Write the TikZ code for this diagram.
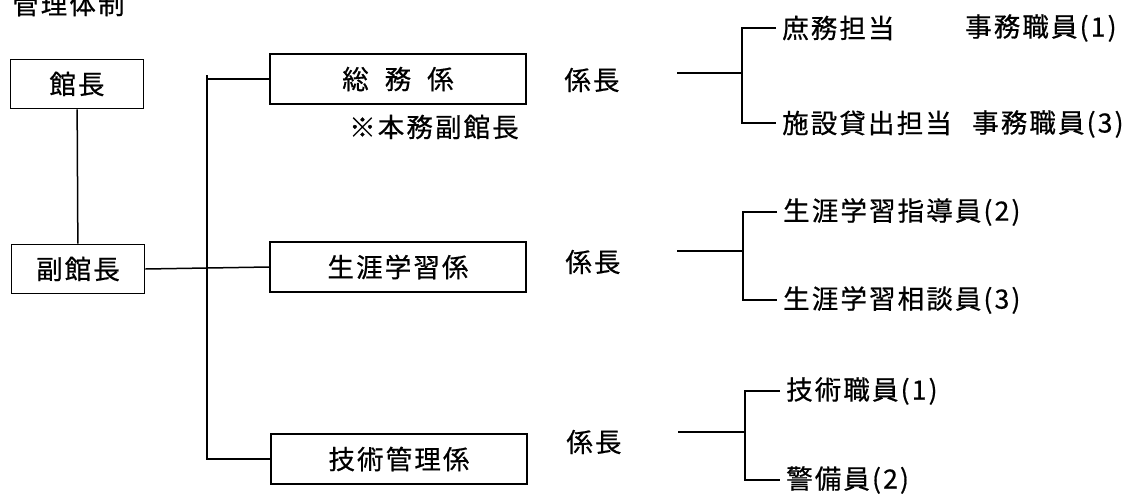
\documentclass[tikz,border=0pt]{standalone}
\usepackage{fontspec}
\newfontfamily\jp{Noto Sans CJK JP}[LetterSpace=8,FakeBold=0.6]
\begin{document}
\begin{tikzpicture}[x=1pt,y=-1pt,
  every node/.style={font=\jp\fontsize{26.5}{26.5}\selectfont},
  lbox/.style={draw,line width=1.8pt,minimum width=133pt,minimum height=49pt,inner sep=0pt},
  dbox/.style={draw,line width=1.8pt,minimum width=256pt,minimum height=50pt,inner sep=0pt},
  txt/.style={inner sep=0pt},
  leaf/.style={anchor=west,inner xsep=6pt,inner ysep=0pt},
  conn/.style={line width=1.5pt}]
\useasboundingbox (0,0) rectangle (1127,493);
% title (cut off at the top edge, as in the reference)
\node[txt,anchor=west] (title) at (12,4) {管理体制};
% left column
\node[lbox] (kancho) at (77,84) {館長};
\node[lbox] (fuku) at (78,269) {副館長};
% departments
\node[dbox] (somu) at (398,79) {総\hspace{16pt}務\hspace{16pt}係};
\node[dbox] (shogai) at (398,267) {生涯学習係};
\node[dbox] (gijutsu) at (399,459) {技術管理係};
\node[txt] (note) at (434,127) {※本務副館長};
% chiefs
\node[txt] (k1) at (592,80) {係長};
\node[txt] (k2) at (593,262) {係長};
\node[txt] (k3) at (594,442) {係長};
% junctions
\coordinate (bus) at (207,75);
\coordinate (s1) at (677,73);  \coordinate (j1) at (742,73);
\coordinate (s2) at (677,251); \coordinate (j2) at (743,251);
\coordinate (s3) at (678,432); \coordinate (j3) at (745,432);
% leaves
\node[leaf] (a1) at (776,28) {庶務担当};
\node[txt,anchor=west] (a1r) at (965,28) {事務職員(1)};
\node[leaf] (a2) at (776,123) {施設貸出担当};
\node[txt,anchor=west] (a2r) at (972,124) {事務職員(3)};
\node[leaf] (b1) at (777,212) {生涯学習指導員(2)};
\node[leaf] (b2) at (777,300) {生涯学習相談員(3)};
\node[leaf] (c1) at (780,391) {技術職員(1)};
\node[leaf] (c2) at (780,480) {警備員(2)};
% connectors
\draw[conn] (kancho) -- (fuku);
\draw[conn] (fuku.east) -- (shogai.west);
\draw[conn] (somu.west) -| (bus) |- (gijutsu.west);
\draw[conn] (s1) -- (j1);
\draw[conn] (a1.west) -| (j1) |- (a2.west);
\draw[conn] (s2) -- (j2);
\draw[conn] (b1.west) -| (j2) |- (b2.west);
\draw[conn] (s3) -- (j3);
\draw[conn] (c1.west) -| (j3) |- (c2.west);
\end{tikzpicture}
\end{document}
